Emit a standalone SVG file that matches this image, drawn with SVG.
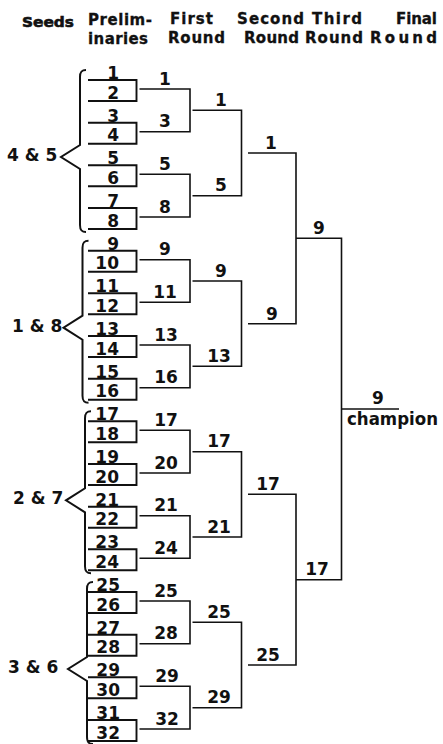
<svg xmlns="http://www.w3.org/2000/svg" width="443" height="744" viewBox="0 0 443 744">
<style>
text{font-family:"DejaVu Sans","Liberation Sans",sans-serif;font-weight:bold;fill:#111}
.h{font-size:15px;stroke:#111;stroke-width:0.3}
.n{font-size:17px}
.p{text-anchor:end}
.m{text-anchor:middle}
.box{fill:none;stroke:#111;stroke-width:1.9}
.ln{fill:none;stroke:#111;stroke-width:1.6}
.br{fill:none;stroke:#111;stroke-width:2;stroke-linejoin:miter}
</style>
<rect width="443" height="744" fill="#fff"/>
<g id="header">
<text x="22" y="27" style="font-size:14.5px;stroke:#111;stroke-width:0.6" textLength="52" lengthAdjust="spacingAndGlyphs">Seeds</text>
<text class="h" x="88" y="25" textLength="64" lengthAdjust="spacing">Prelim-</text>
<text class="h" x="88" y="44" textLength="60" lengthAdjust="spacing">inaries</text>
<text class="h" x="170" y="24" textLength="43" lengthAdjust="spacing">First</text>
<text class="h" x="168" y="43" textLength="57" lengthAdjust="spacing">Round</text>
<text class="h" x="237" y="24" textLength="67" lengthAdjust="spacing">Second</text>
<text class="h" x="244" y="43" textLength="55" lengthAdjust="spacing">Round</text>
<text class="h" x="312" y="24" textLength="50" lengthAdjust="spacing">Third</text>
<text class="h" x="305" y="43" textLength="58" lengthAdjust="spacing">Round</text>
<text class="h" x="396" y="24" textLength="41" lengthAdjust="spacing">Final</text>
<text class="h" x="370" y="43" textLength="67" lengthAdjust="spacing">Round</text>
</g>
<g id="seed-4-5"><path class="br" d="M86,70 C81.5,70 80,72 80,77 V145 L61,157 L80,169 V225 C80,230 81.5,232 86,232"/><text class="n" x="7" y="161">4 &amp; 5</text></g>
<g id="seed-1-8"><path class="br" d="M88.5,240.7 C84,240.7 82.5,242.7 82.5,247.7 V315.7 L63.5,327.7 L82.5,339.7 V395.7 C82.5,400.7 84,402.7 88.5,402.7"/><text class="n" x="12" y="332">1 &amp; 8</text></g>
<g id="seed-2-7"><path class="br" d="M91,411.3 C86.5,411.3 85,413.3 85,418.3 V488.3 L66,500.3 L85,512.3 V566.3 C85,571.3 86.5,573.3 91,573.3"/><text class="n" x="13" y="504">2 &amp; 7</text></g>
<g id="seed-3-6"><path class="br" d="M93,582 C88.5,582 87,584 87,589 V657 L68,669 L87,681 V737 C87,742 88.5,744 93,744"/><text class="n" x="8" y="673">3 &amp; 6</text></g>
<g id="prelim-1-2"><path class="box" d="M88,80 H136.5 V101 H88"/><text class="n p" x="119" y="79">1</text><text class="n p" x="119" y="98.5">2</text></g>
<g id="prelim-3-4"><path class="box" d="M88,122.7 H136.5 V143.7 H88"/><text class="n p" x="119" y="121.7">3</text><text class="n p" x="119" y="141.2">4</text></g>
<g id="prelim-5-6"><path class="box" d="M88,165.3 H136.5 V186.3 H88"/><text class="n p" x="119" y="164.3">5</text><text class="n p" x="119" y="183.8">6</text></g>
<g id="prelim-7-8"><path class="box" d="M88,208 H136.5 V229 H88"/><text class="n p" x="119" y="207">7</text><text class="n p" x="119" y="226.5">8</text></g>
<g id="prelim-9-10"><path class="box" d="M88,250.7 H136.5 V271.7 H88"/><text class="n p" x="119" y="249.7">9</text><text class="n p" x="119" y="269.2">10</text></g>
<g id="prelim-11-12"><path class="box" d="M88,293.3 H136.5 V314.3 H88"/><text class="n p" x="119" y="292.3">11</text><text class="n p" x="119" y="311.8">12</text></g>
<g id="prelim-13-14"><path class="box" d="M88,336 H136.5 V357 H88"/><text class="n p" x="119" y="335">13</text><text class="n p" x="119" y="354.5">14</text></g>
<g id="prelim-15-16"><path class="box" d="M88,378.7 H136.5 V399.7 H88"/><text class="n p" x="119" y="377.7">15</text><text class="n p" x="119" y="397.2">16</text></g>
<g id="prelim-17-18"><path class="box" d="M88,421.3 H136.5 V442.3 H88"/><text class="n p" x="119" y="420.3">17</text><text class="n p" x="119" y="439.8">18</text></g>
<g id="prelim-19-20"><path class="box" d="M88,464 H136.5 V485 H88"/><text class="n p" x="119" y="463">19</text><text class="n p" x="119" y="482.5">20</text></g>
<g id="prelim-21-22"><path class="box" d="M88,506.7 H136.5 V527.7 H88"/><text class="n p" x="119" y="505.7">21</text><text class="n p" x="119" y="525.2">22</text></g>
<g id="prelim-23-24"><path class="box" d="M88,549.3 H136.5 V570.3 H88"/><text class="n p" x="119" y="548.3">23</text><text class="n p" x="119" y="567.8">24</text></g>
<g id="prelim-25-26"><path class="box" d="M88,592 H136.5 V613 H88"/><text class="n p" x="120" y="591">25</text><text class="n p" x="120" y="610.5">26</text></g>
<g id="prelim-27-28"><path class="box" d="M88,634.7 H136.5 V655.7 H88"/><text class="n p" x="120" y="633.7">27</text><text class="n p" x="120" y="653.2">28</text></g>
<g id="prelim-29-30"><path class="box" d="M88,677.3 H136.5 V698.3 H88"/><text class="n p" x="120" y="676.3">29</text><text class="n p" x="120" y="695.8">30</text></g>
<g id="prelim-31-32"><path class="box" d="M88,720 H136.5 V741 H88"/><text class="n p" x="120" y="719">31</text><text class="n p" x="120" y="738.5">32</text></g>
<g id="connectors">
<path class="ln" d="M139.5,89 H190 V131.7 H139.5 M139.5,174.3 H190 V217 H139.5 M139.5,259.7 H190 V302.3 H139.5 M139.5,345 H190 V387.7 H139.5 M139.5,430.3 H190 V473 H139.5 M139.5,515.7 H190 V558.3 H139.5 M139.5,601 H190 V643.7 H139.5 M139.5,686.3 H190 V729 H139.5"/>
<path class="ln" d="M192.5,110.3 H241.5 V195.7 H192.5 M192.5,281 H241.5 V366.3 H192.5 M192.5,451.7 H241.5 V537 H192.5 M192.5,622.3 H241.5 V707.7 H192.5"/>
<path class="ln" d="M248,153 H296 V323.7 H248 M248,494.3 H296 V665 H248"/>
<path class="ln" d="M296,238.3 H341.5 V579.7 H296"/>
<path class="ln" d="M341.5,409 H399"/>
</g>
<g id="first-round">
<text class="n m" x="165" y="84.5">1</text><text class="n m" x="165" y="127.2">3</text>
<text class="n m" x="165" y="169.8">5</text><text class="n m" x="165" y="212.5">8</text>
<text class="n m" x="165" y="255.2">9</text><text class="n m" x="165" y="297.8">11</text>
<text class="n m" x="166" y="340.5">13</text><text class="n m" x="166" y="383.2">16</text>
<text class="n m" x="166" y="425.8">17</text><text class="n m" x="166" y="468.5">20</text>
<text class="n m" x="166" y="511.2">21</text><text class="n m" x="166" y="553.8">24</text>
<text class="n m" x="166" y="596.5">25</text><text class="n m" x="166" y="639.2">28</text>
<text class="n m" x="167" y="681.8">29</text><text class="n m" x="167" y="724.5">32</text>
</g>
<g id="second-round">
<text class="n m" x="221" y="105.8">1</text><text class="n m" x="221" y="191.2">5</text>
<text class="n m" x="221" y="276.5">9</text><text class="n m" x="219" y="361.8">13</text>
<text class="n m" x="219" y="447.2">17</text><text class="n m" x="219" y="532.5">21</text>
<text class="n m" x="219" y="617.8">25</text><text class="n m" x="219" y="703.2">29</text>
</g>
<g id="third-round">
<text class="n m" x="271" y="149">1</text><text class="n m" x="272" y="319.7">9</text>
<text class="n m" x="268" y="490.3">17</text><text class="n m" x="268" y="661">25</text>
</g>
<g id="final-round">
<text class="n m" x="319" y="233.8">9</text><text class="n m" x="317" y="575.2">17</text>
</g>
<g id="champion">
<text class="n m" x="378" y="404">9</text>
<text class="n" x="347" y="425" textLength="91" lengthAdjust="spacingAndGlyphs">champion</text>
</g>
</svg>
